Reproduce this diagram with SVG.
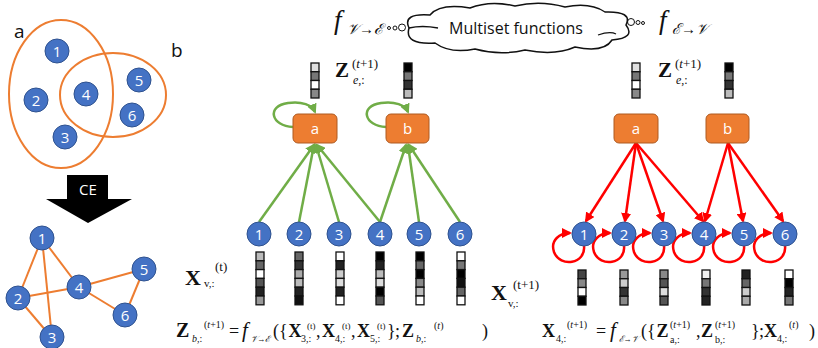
<svg xmlns="http://www.w3.org/2000/svg" width="818" height="348" viewBox="0 0 818 348">
<defs>
<style>
.v{fill:#4472C4;stroke:#2F528F;stroke-width:1}
.vt{fill:#fff;font-family:"Open Sans","Liberation Sans",sans-serif;font-size:15px;text-anchor:middle}
.he{fill:#ED7D31;stroke:#AE5A21;stroke-width:1}
.ell{fill:none;stroke:#ED7D31;stroke-width:2}
.ce{stroke:#ED7D31;stroke-width:2;fill:none}
.g{stroke:#70AD47;stroke-width:2.5;fill:none;marker-end:url(#ga)}
.r{stroke:#FF0000;stroke-width:2.5;fill:none;marker-end:url(#ra)}
.c{stroke:#111;stroke-width:1.3}
.m{font-family:"Liberation Serif","DejaVu Serif",serif;fill:#111}
.b{font-weight:bold}
.i{font-style:italic}
.sans{font-family:"Open Sans","Liberation Sans",sans-serif;fill:#111}
</style>
<marker id="ga" viewBox="0 0 10 10" refX="8" refY="5" markerWidth="4" markerHeight="4" orient="auto"><path d="M0,0 L10,5 L0,10 Z" fill="#70AD47"/></marker>
<marker id="ra" viewBox="0 0 10 10" refX="8" refY="5" markerWidth="4" markerHeight="4" orient="auto"><path d="M0,0 L10,5 L0,10 Z" fill="#FF0000"/></marker>
</defs>
<rect width="818" height="348" fill="#fff"/>

<!-- Left: hypergraph -->
<g id="hypergraph">
<ellipse class="ell" cx="61" cy="94" rx="52" ry="74"/>
<ellipse class="ell" cx="113" cy="95" rx="53" ry="42"/>
<text class="sans" x="14" y="38" font-size="19">a</text>
<text class="sans" x="171" y="57" font-size="19">b</text>
<g id="h1"><circle class="v" cx="57" cy="51" r="12"/><text class="vt" x="57" y="56.5">1</text></g>
<g id="h2"><circle class="v" cx="36" cy="100" r="12"/><text class="vt" x="36" y="105.5">2</text></g>
<g id="h3"><circle class="v" cx="65" cy="137" r="12"/><text class="vt" x="65" y="142.5">3</text></g>
<g id="h4"><circle class="v" cx="86" cy="94" r="12"/><text class="vt" x="86" y="99.5">4</text></g>
<g id="h5"><circle class="v" cx="139" cy="80" r="12"/><text class="vt" x="139" y="85.5">5</text></g>
<g id="h6"><circle class="v" cx="132" cy="115" r="12"/><text class="vt" x="132" y="120.5">6</text></g>
</g>

<g id="ce-arrow">
<polygon points="67,175 108,175 108,199 132,199 88,223 46,199 67,199" fill="#000"/>
<text class="vt" x="88" y="195" font-size="14">CE</text>
</g>

<!-- Left bottom: clique expansion -->
<g id="ce-edges">
<line class="ce" x1="42" y1="238" x2="18" y2="298"/>
<line class="ce" x1="42" y1="238" x2="52" y2="338"/>
<line class="ce" x1="42" y1="238" x2="79" y2="287"/>
<line class="ce" x1="18" y1="298" x2="79" y2="287"/>
<line class="ce" x1="18" y1="298" x2="52" y2="338"/>
<line class="ce" x1="79" y1="287" x2="144" y2="269"/>
<line class="ce" x1="79" y1="287" x2="125" y2="315"/>
<line class="ce" x1="144" y1="269" x2="125" y2="315"/>
</g>
<g id="c1"><circle class="v" cx="42" cy="238" r="12"/><text class="vt" x="42" y="243.5">1</text></g>
<g id="c2"><circle class="v" cx="18" cy="298" r="12"/><text class="vt" x="18" y="303.5">2</text></g>
<g id="c3"><circle class="v" cx="52" cy="337" r="12"/><text class="vt" x="52" y="342.5">3</text></g>
<g id="c4"><circle class="v" cx="79" cy="287" r="12"/><text class="vt" x="79" y="292.5">4</text></g>
<g id="c5"><circle class="v" cx="144" cy="269" r="12"/><text class="vt" x="144" y="274.5">5</text></g>
<g id="c6"><circle class="v" cx="125" cy="315" r="12"/><text class="vt" x="125" y="320.5">6</text></g>

<!-- Cloud -->
<g id="cloud">
<path d="M 409 28 Q 402 13 430 15 Q 440 3 470 8 Q 490 0 515 6 Q 540 0 565 7 Q 590 2 605 12 Q 633 11 626 25 Q 636 38 612 40 Q 604 53 575 47 Q 555 56 525 50 Q 500 56 475 49 Q 450 54 435 43 Q 404 45 409 28 Z" fill="#fff" stroke="#111" stroke-width="1.5"/>
<path d="M 409 28 Q 422 25 438 28" fill="none" stroke="#111" stroke-width="1.3"/>
<path d="M 598 35 Q 610 31 616 34" fill="none" stroke="#111" stroke-width="1.3"/>
<circle cx="389" cy="28" r="1.5" fill="none" stroke="#111" stroke-width="1"/>
<circle cx="395" cy="28" r="2" fill="none" stroke="#111" stroke-width="1"/>
<circle cx="402" cy="27.5" r="3.5" fill="none" stroke="#111" stroke-width="1"/>
<circle cx="631" cy="22" r="3.5" fill="none" stroke="#111" stroke-width="1"/>
<circle cx="638" cy="22.5" r="2" fill="none" stroke="#111" stroke-width="1"/>
<circle cx="643" cy="23" r="1.5" fill="none" stroke="#111" stroke-width="1"/>
<text class="sans" x="516" y="34" font-size="16" text-anchor="middle">Multiset functions</text>
</g>
<text class="m i" x="334" y="29" font-size="27">f</text>
<text class="m i" x="347" y="34" font-size="15" textLength="36" lengthAdjust="spacingAndGlyphs">𝒱→ℰ</text>
<text class="m i" x="659" y="29" font-size="27">f</text>
<text class="m i" x="672" y="34" font-size="15" textLength="36" lengthAdjust="spacingAndGlyphs">ℰ→𝒱</text>

<!-- Z labels and bars -->
<text class="m b" x="335" y="77" font-size="21">Z</text>
<text class="m" x="352" y="68" font-size="13">(<tspan class="i">t</tspan>+1)</text>
<text class="m" x="353" y="84" font-size="12"><tspan class="i">e</tspan>,:</text>
<text class="m b" x="658" y="77" font-size="21">Z</text>
<text class="m" x="675" y="68" font-size="13">(<tspan class="i">t</tspan>+1)</text>
<text class="m" x="676" y="84" font-size="12"><tspan class="i">e</tspan>,:</text>
<g id="zbars">
<rect class="c" x="311" y="63" width="8" height="8.75" fill="#e0e0e0"/>
<rect class="c" x="311" y="71.75" width="8" height="8.75" fill="#777"/>
<rect class="c" x="311" y="80.5" width="8" height="8.75" fill="#fff"/>
<rect class="c" x="311" y="89.25" width="8" height="8.75" fill="#888"/>
<rect class="c" x="404" y="63" width="8" height="8.75" fill="#000"/>
<rect class="c" x="404" y="71.75" width="8" height="8.75" fill="#777"/>
<rect class="c" x="404" y="80.5" width="8" height="8.75" fill="#333"/>
<rect class="c" x="404" y="89.25" width="8" height="8.75" fill="#bbb"/>
<rect class="c" x="632" y="63" width="8" height="8.75" fill="#e0e0e0"/>
<rect class="c" x="632" y="71.75" width="8" height="8.75" fill="#777"/>
<rect class="c" x="632" y="80.5" width="8" height="8.75" fill="#fff"/>
<rect class="c" x="632" y="89.25" width="8" height="8.75" fill="#888"/>
<rect class="c" x="725" y="63" width="8" height="8.75" fill="#000"/>
<rect class="c" x="725" y="71.75" width="8" height="8.75" fill="#777"/>
<rect class="c" x="725" y="80.5" width="8" height="8.75" fill="#333"/>
<rect class="c" x="725" y="89.25" width="8" height="8.75" fill="#bbb"/>
</g>

<!-- Middle connectors -->
<g id="green-connectors">
<path class="g" d="M 293 127 C 271 126, 266 106, 288 103 C 302 101, 312 105, 315 112"/>
<path class="g" d="M 386 127 C 364 126, 359 106, 381 103 C 395 101, 405 105, 408 112"/>
<line class="g" x1="259" y1="222" x2="314" y2="145"/>
<line class="g" x1="299" y1="222" x2="314" y2="145"/>
<line class="g" x1="339" y1="222" x2="316" y2="145"/>
<line class="g" x1="380" y1="222" x2="317" y2="145"/>
<line class="g" x1="380" y1="222" x2="406" y2="145"/>
<line class="g" x1="419" y1="222" x2="408" y2="145"/>
<line class="g" x1="460" y1="222" x2="409" y2="145"/>
</g>
<g id="ma"><rect class="he" x="293" y="114" width="44" height="29" rx="5"/><text class="vt" x="315" y="134">a</text></g>
<g id="mb"><rect class="he" x="386" y="114" width="43" height="29" rx="5"/><text class="vt" x="407.5" y="134">b</text></g>
<g id="m1"><circle class="v" cx="259" cy="234" r="12"/><text class="vt" x="259" y="239.5">1</text></g>
<g id="m2"><circle class="v" cx="299" cy="234" r="12"/><text class="vt" x="299" y="239.5">2</text></g>
<g id="m3"><circle class="v" cx="339" cy="234" r="12"/><text class="vt" x="339" y="239.5">3</text></g>
<g id="m4"><circle class="v" cx="380" cy="234" r="12"/><text class="vt" x="380" y="239.5">4</text></g>
<g id="m5"><circle class="v" cx="419" cy="234" r="12"/><text class="vt" x="419" y="239.5">5</text></g>
<g id="m6"><circle class="v" cx="460" cy="234" r="12"/><text class="vt" x="460" y="239.5">6</text></g>

<!-- Middle X bars -->
<text class="m b" x="185" y="285" font-size="22">X</text>
<text class="m" x="204" y="287" font-size="11">v,:</text>
<text class="m" x="215" y="271" font-size="13">(t)</text>
<g id="xbars-mid">
<rect class="c" x="256" y="252" width="8" height="8.8" fill="#bbb"/>
<rect class="c" x="256" y="260.8" width="8" height="8.8" fill="#666"/>
<rect class="c" x="256" y="269.6" width="8" height="8.8" fill="#fff"/>
<rect class="c" x="256" y="278.4" width="8" height="8.8" fill="#555"/>
<rect class="c" x="256" y="287.2" width="8" height="8.8" fill="#222"/>
<rect class="c" x="256" y="296" width="8" height="8.8" fill="#999"/>
<rect class="c" x="295" y="252" width="8" height="8.8" fill="#666"/>
<rect class="c" x="295" y="260.8" width="8" height="8.8" fill="#333"/>
<rect class="c" x="295" y="269.6" width="8" height="8.8" fill="#aaa"/>
<rect class="c" x="295" y="278.4" width="8" height="8.8" fill="#bbb"/>
<rect class="c" x="295" y="287.2" width="8" height="8.8" fill="#222"/>
<rect class="c" x="295" y="296" width="8" height="8.8" fill="#111"/>
<rect class="c" x="336" y="252" width="8" height="8.8" fill="#fff"/>
<rect class="c" x="336" y="260.8" width="8" height="8.8" fill="#222"/>
<rect class="c" x="336" y="269.6" width="8" height="8.8" fill="#ccc"/>
<rect class="c" x="336" y="278.4" width="8" height="8.8" fill="#ddd"/>
<rect class="c" x="336" y="287.2" width="8" height="8.8" fill="#222"/>
<rect class="c" x="336" y="296" width="8" height="8.8" fill="#fff"/>
<rect class="c" x="376" y="252" width="8" height="8.8" fill="#000"/>
<rect class="c" x="376" y="260.8" width="8" height="8.8" fill="#222"/>
<rect class="c" x="376" y="269.6" width="8" height="8.8" fill="#bbb"/>
<rect class="c" x="376" y="278.4" width="8" height="8.8" fill="#ddd"/>
<rect class="c" x="376" y="287.2" width="8" height="8.8" fill="#000"/>
<rect class="c" x="376" y="296" width="8" height="8.8" fill="#555"/>
<rect class="c" x="416" y="252" width="8" height="8.8" fill="#000"/>
<rect class="c" x="416" y="260.8" width="8" height="8.8" fill="#666"/>
<rect class="c" x="416" y="269.6" width="8" height="8.8" fill="#000"/>
<rect class="c" x="416" y="278.4" width="8" height="8.8" fill="#888"/>
<rect class="c" x="416" y="287.2" width="8" height="8.8" fill="#bbb"/>
<rect class="c" x="416" y="296" width="8" height="8.8" fill="#fff"/>
<rect class="c" x="457" y="252" width="8" height="8.8" fill="#fff"/>
<rect class="c" x="457" y="260.8" width="8" height="8.8" fill="#777"/>
<rect class="c" x="457" y="269.6" width="8" height="8.8" fill="#000"/>
<rect class="c" x="457" y="278.4" width="8" height="8.8" fill="#111"/>
<rect class="c" x="457" y="287.2" width="8" height="8.8" fill="#666"/>
<rect class="c" x="457" y="296" width="8" height="8.8" fill="#fff"/>
</g>

<!-- Right connectors -->
<g id="red-connectors">
<line class="r" x1="636" y1="143" x2="586" y2="221"/>
<line class="r" x1="636" y1="143" x2="625" y2="221"/>
<line class="r" x1="636" y1="143" x2="663" y2="221"/>
<line class="r" x1="636" y1="143" x2="703" y2="221"/>
<line class="r" x1="728" y1="143" x2="705" y2="221"/>
<line class="r" x1="728" y1="143" x2="743" y2="221"/>
<line class="r" x1="728" y1="143" x2="783" y2="221"/>
<path class="r" d="M 584 246 C 586 264, 560 268, 554 252 C 550 240, 560 233, 570 233"/>
<path class="r" d="M 624 246 C 626 264, 600 268, 594 252 C 590 240, 600 233, 610 233"/>
<path class="r" d="M 664 246 C 666 264, 640 268, 634 252 C 630 240, 640 233, 650 233"/>
<path class="r" d="M 704 246 C 706 264, 680 268, 674 252 C 670 240, 680 233, 690 233"/>
<path class="r" d="M 744 246 C 746 264, 720 268, 714 252 C 710 240, 720 233, 730 233"/>
<path class="r" d="M 785 246 C 787 264, 761 268, 755 252 C 751 240, 761 233, 771 233"/>
</g>
<g id="ra-node"><rect class="he" x="614" y="114" width="44" height="29" rx="5"/><text class="vt" x="636" y="134">a</text></g>
<g id="rb-node"><rect class="he" x="706" y="114" width="43" height="29" rx="5"/><text class="vt" x="727.5" y="134">b</text></g>
<g id="r1"><circle class="v" cx="584" cy="234" r="12"/><text class="vt" x="584" y="239.5">1</text></g>
<g id="r2"><circle class="v" cx="624" cy="234" r="12"/><text class="vt" x="624" y="239.5">2</text></g>
<g id="r3"><circle class="v" cx="664" cy="234" r="12"/><text class="vt" x="664" y="239.5">3</text></g>
<g id="r4"><circle class="v" cx="704" cy="234" r="12"/><text class="vt" x="704" y="239.5">4</text></g>
<g id="r5"><circle class="v" cx="744" cy="234" r="12"/><text class="vt" x="744" y="239.5">5</text></g>
<g id="r6"><circle class="v" cx="785" cy="234" r="12"/><text class="vt" x="785" y="239.5">6</text></g>

<!-- Right X bars -->
<text class="m b" x="491" y="300" font-size="22">X</text>
<text class="m" x="508" y="307" font-size="11">v,:</text>
<text class="m" x="513" y="289" font-size="13">(t+1)</text>
<g id="xbars-right">
<rect class="c" x="578" y="270" width="8" height="8.75" fill="#444"/>
<rect class="c" x="578" y="278.75" width="8" height="8.75" fill="#888"/>
<rect class="c" x="578" y="287.5" width="8" height="8.75" fill="#fff"/>
<rect class="c" x="578" y="296.25" width="8" height="8.75" fill="#000"/>
<rect class="c" x="620" y="270" width="8" height="8.75" fill="#999"/>
<rect class="c" x="620" y="278.75" width="8" height="8.75" fill="#ccc"/>
<rect class="c" x="620" y="287.5" width="8" height="8.75" fill="#333"/>
<rect class="c" x="620" y="296.25" width="8" height="8.75" fill="#888"/>
<rect class="c" x="660" y="270" width="8" height="8.75" fill="#888"/>
<rect class="c" x="660" y="278.75" width="8" height="8.75" fill="#555"/>
<rect class="c" x="660" y="287.5" width="8" height="8.75" fill="#ddd"/>
<rect class="c" x="660" y="296.25" width="8" height="8.75" fill="#555"/>
<rect class="c" x="702" y="270" width="8" height="8.75" fill="#eee"/>
<rect class="c" x="702" y="278.75" width="8" height="8.75" fill="#777"/>
<rect class="c" x="702" y="287.5" width="8" height="8.75" fill="#333"/>
<rect class="c" x="702" y="296.25" width="8" height="8.75" fill="#222"/>
<rect class="c" x="742" y="270" width="8" height="8.75" fill="#222"/>
<rect class="c" x="742" y="278.75" width="8" height="8.75" fill="#666"/>
<rect class="c" x="742" y="287.5" width="8" height="8.75" fill="#ccc"/>
<rect class="c" x="742" y="296.25" width="8" height="8.75" fill="#aaa"/>
<rect class="c" x="785" y="270" width="8" height="8.75" fill="#fff"/>
<rect class="c" x="785" y="278.75" width="8" height="8.75" fill="#000"/>
<rect class="c" x="785" y="287.5" width="8" height="8.75" fill="#222"/>
<rect class="c" x="785" y="296.25" width="8" height="8.75" fill="#777"/>
</g>

<!-- Bottom left formula -->
<g id="formula-left" class="m">
<text class="b" x="176" y="337" font-size="20">Z</text>
<text x="192" y="342" font-size="10"><tspan class="i">b</tspan>,:</text>
<text x="204" y="328" font-size="10">(<tspan class="i">t</tspan>+1)</text>
<text x="229" y="337" font-size="18">=</text>
<text class="i" x="242" y="337" font-size="21">f</text>
<text class="i" x="251" y="342" font-size="9" textLength="19" lengthAdjust="spacingAndGlyphs">𝒱→ℰ</text>
<text x="273" y="337" font-size="18">({</text>
<text class="b" x="288.5" y="337" font-size="18">X</text>
<text x="301" y="342" font-size="10">3,:</text>
<text x="307" y="329" font-size="9">(t)</text>
<text x="316" y="337" font-size="18">,</text>
<text class="b" x="322" y="337" font-size="18">X</text>
<text x="335" y="342" font-size="10">4,:</text>
<text x="342" y="329" font-size="9">(t)</text>
<text x="351" y="337" font-size="18">,</text>
<text class="b" x="357" y="337" font-size="18">X</text>
<text x="370" y="342" font-size="10">5,:</text>
<text x="377" y="329" font-size="9">(t)</text>
<text x="387" y="337" font-size="18">}</text>
<text x="395" y="337" font-size="18">;</text>
<text class="b" x="402" y="337" font-size="18">Z</text>
<text x="416" y="342" font-size="10"><tspan class="i">b</tspan>,:</text>
<text x="434" y="329" font-size="10">(<tspan class="i">t</tspan>)</text>
<text x="482" y="337" font-size="18">)</text>
</g>

<!-- Bottom right formula -->
<g id="formula-right" class="m">
<text class="b" x="542" y="337" font-size="18">X</text>
<text x="556" y="342" font-size="10">4,:</text>
<text x="567" y="328" font-size="10">(<tspan class="i">t</tspan>+1)</text>
<text x="596" y="337" font-size="18">=</text>
<text class="i" x="610" y="337" font-size="21">f</text>
<text class="i" x="619" y="342" font-size="9" textLength="19" lengthAdjust="spacingAndGlyphs">ℰ→𝒱</text>
<text x="641" y="337" font-size="18">({</text>
<text class="b" x="656.5" y="337" font-size="18">Z</text>
<text x="670" y="328" font-size="10">(<tspan class="i">t</tspan>+1)</text>
<text x="670" y="343" font-size="10">a,:</text>
<text x="696" y="337" font-size="18">,</text>
<text class="b" x="701" y="337" font-size="18">Z</text>
<text x="715" y="328" font-size="10">(<tspan class="i">t</tspan>+1)</text>
<text x="715" y="343" font-size="10">b,:</text>
<text x="751" y="337" font-size="18">}</text>
<text x="759" y="337" font-size="18">;</text>
<text class="b" x="764" y="337" font-size="18">X</text>
<text x="777" y="342" font-size="10">4,:</text>
<text x="789" y="328" font-size="10">(<tspan class="i">t</tspan>)</text>
<text x="809" y="337" font-size="18">)</text>
</g>
</svg>
